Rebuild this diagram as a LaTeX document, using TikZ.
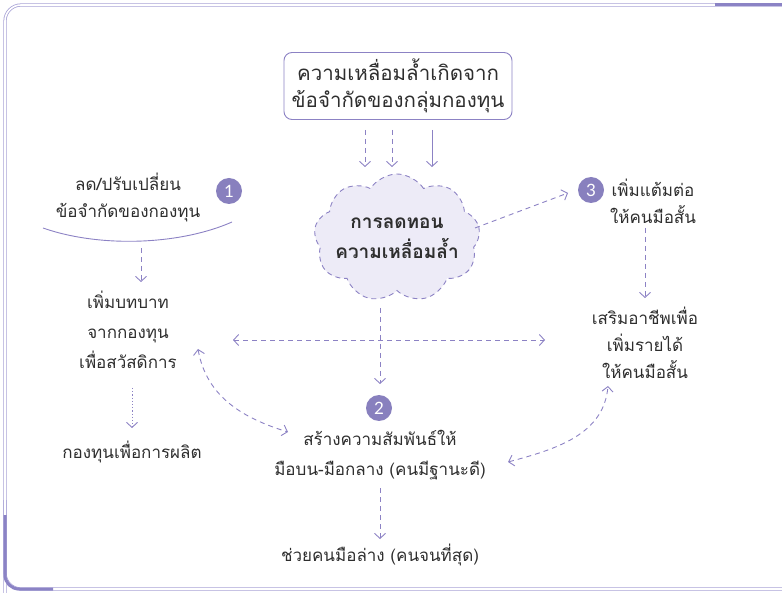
\documentclass[tikz,border=0pt]{standalone}
\usepackage{fontspec}
\usetikzlibrary{arrows.meta,shapes.symbols}
\newfontfamily\thaifont[Script=Thai]{Loma}
\newfontfamily\numfont{Lato}
\definecolor{pur}{HTML}{8C82C4}
\definecolor{badge}{HTML}{8880BE}
\definecolor{cloudfill}{HTML}{EDEBF7}
\definecolor{ink}{HTML}{2E2E2E}
\definecolor{frame}{HTML}{A9A3D6}
\definecolor{framedark}{HTML}{8B83C5}
\begin{document}
\begin{tikzpicture}[x=1pt,y=-1pt,
  txt/.style={font=\thaifont\fontsize{17}{27}\selectfont, text=ink, align=center, inner sep=1pt},
  bigtxt/.style={font=\thaifont\fontsize{20.5}{27}\selectfont, text=ink, align=center, inner sep=1pt},
  boldtxt/.style={font=\thaifont\bfseries\fontsize{19}{30}\selectfont, text=ink, align=center},
  tipv/.style={-{Straight Barb[length=5pt,width=11pt]}},
  dashconn/.style={draw=pur, line width=0.9pt, dash pattern=on 5pt off 4pt, tipv},
  dotconn/.style={draw=pur, line width=0.9pt, dash pattern=on 1.2pt off 2pt, tipv},
  solidconn/.style={draw=pur, line width=0.9pt, tipv},
  bothconn/.style={draw=pur, line width=0.9pt, dash pattern=on 5pt off 4pt, {Straight Barb[length=5pt,width=11pt]}-{Straight Barb[length=5pt,width=11pt]}},
  badgenode/.style={circle, fill=badge, minimum size=26pt, inner sep=0pt, text=white, font=\numfont\fontsize{17}{17}\selectfont}
]
\useasboundingbox (0,0) rectangle (782,593);
% frame
\draw[frame, line width=0.8pt, double=white, double distance=1.6pt, rounded corners=16pt]
  (5,600) -- (5,5) -- (800,5);
\draw[frame, line width=0.8pt, double=white, double distance=1.6pt, rounded corners=16pt]
  (5,500) -- (5,589) -- (800,589);
\draw[framedark, line width=3pt] (715,5) -- (782,5);
\draw[framedark, line width=3pt, rounded corners=14pt] (5,515) -- (5,589) -- (53,589);

% top box
\node[bigtxt, draw=pur, line width=0.9pt, rounded corners=8pt, minimum width=228pt, minimum height=67pt] (top) at (398,86)
  {ความเหลื่อมล้ำเกิดจาก\\ข้อจำกัดของกลุ่มกองทุน};

% cloud
\node[cloud, cloud puffs=9, cloud puff arc=115, aspect=1.3, draw=pur, fill=cloudfill, line width=0.9pt,
  dash pattern=on 5pt off 4pt, minimum width=166pt, minimum height=128pt, inner sep=0pt] (cloud) at (397,238) {};
\node[boldtxt] (cloudtext) at (cloud.center) {การลดทอน\\ความเหลื่อมล้ำ};

\coordinate (a1s) at (365,130); \coordinate (a1e) at (365,167);
\coordinate (a2s) at (392,130); \coordinate (a2e) at (392,167);
\coordinate (a3s) at (432,130); \coordinate (a3e) at (432,167);
\draw[dashconn] (a1s) -- (a1e);
\draw[dashconn] (a2s) -- (a2e);
\draw[solidconn] (a3s) -- (a3e);

% left branch
\node[badgenode] (b1) at (229,191) {1};
\node[txt] (l1) at (128,197) {ลด/ปรับเปลี่ยน\\ข้อจำกัดของกองทุน};
\coordinate (arcL) at (43,228);
\coordinate (arcR) at (232,222);
\draw[pur, line width=0.9pt] (arcL) .. controls (100,248) and (180,245) .. (arcR);
\node[txt, font=\thaifont\fontsize{17}{30}\selectfont] (l2) at (128,330) {เพิ่มบทบาท\\จากกองทุน\\เพื่อสวัสดิการ};
\coordinate (l1a) at (141,248); \coordinate (l1b) at (141,282);
\draw[dashconn] (l1a) -- (l1b);
\node[txt] (l3) at (132,452) {กองทุนเพื่อการผลิต};
\coordinate (l2a) at (132,388); \coordinate (l3a) at (132,428);
\draw[dotconn] (l2a) -- (l3a);

% centre branch
\coordinate (cl) at (233,340); \coordinate (cr) at (545,340);
\draw[bothconn] (cl) -- (cr);
\coordinate (cs) at (380,308); \coordinate (ce) at (380,384);
\draw[dashconn] (cs) -- (ce);
\node[badgenode] (b2) at (379,408) {2};
\node[txt, font=\thaifont\fontsize{17}{30}\selectfont] (m1) at (380,455) {สร้างความสัมพันธ์ให้\\มือบน-มือกลาง (คนมีฐานะดี)};
\coordinate (m1a) at (380,488); \coordinate (m2a) at (380,539);
\draw[dashconn] (m1a) -- (m2a);
\node[txt] (m2) at (380,555) {ช่วยคนมือล่าง (คนจนที่สุด)};

% curved links
\coordinate (lc1) at (198,349); \coordinate (lc2) at (288,432);
\draw[bothconn] (lc1) to[out=-80, in=163] (lc2);
\coordinate (rc1) at (508,462); \coordinate (rc2) at (608,386);
\draw[bothconn] (rc1) to[out=15, in=-95] (rc2);

% right branch
\node[badgenode] (b3) at (591,190) {3};
\coordinate (ra) at (475,228); \coordinate (rb) at (568,193);
\draw[dashconn] (ra) -- (rb);
\node[txt] (r1) at (653,201) {เพิ่มแต้มต่อ\\ให้คนมือสั้น};
\coordinate (r1a) at (645,228); \coordinate (r2a) at (645,298);
\draw[dashconn] (r1a) -- (r2a);
\node[txt] (r2) at (645,343) {เสริมอาชีพเพื่อ\\เพิ่มรายได้\\ให้คนมือสั้น};
\end{tikzpicture}
\end{document}
